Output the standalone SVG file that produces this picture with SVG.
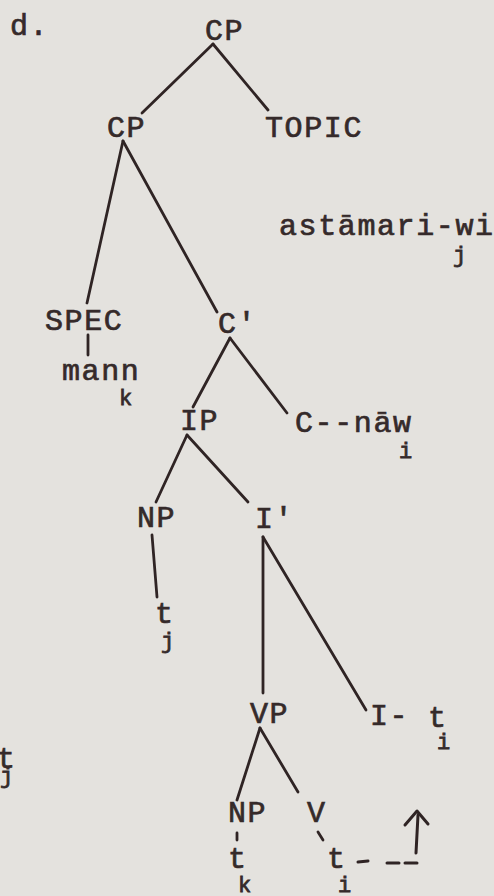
<svg xmlns="http://www.w3.org/2000/svg" width="494" height="896" viewBox="0 0 494 896">
  <style>
    .lbl { font-family: "Liberation Mono", "Courier New", monospace; font-size: 30px; letter-spacing: 1.6px; fill: #352a2a; stroke: #352a2a; stroke-width: 0.7px; }
    .sub { font-family: "Liberation Mono", "Courier New", monospace; font-size: 22px; fill: #352a2a; stroke: #352a2a; stroke-width: 0.8px; }
    .edge { stroke: #2f2424; stroke-width: 2.8; stroke-linecap: round; fill: none; }
    .move { stroke: #2f2424; stroke-width: 3; stroke-linecap: round; stroke-linejoin: round; fill: none; }
  </style>
  <rect width="494" height="896" fill="#e4e2de"/>

  <text class="lbl" x="10" y="35">d.</text>

  <!-- tree branches -->
  <g id="connectors">
    <line class="edge" x1="213" y1="44" x2="142" y2="113"/>
    <line class="edge" x1="213" y1="44" x2="268" y2="110"/>
    <line class="edge" x1="123" y1="141" x2="87" y2="303"/>
    <line class="edge" x1="123" y1="141" x2="217" y2="312"/>
    <line class="edge" x1="88" y1="335" x2="88" y2="355"/>
    <line class="edge" x1="230" y1="338" x2="193" y2="407"/>
    <line class="edge" x1="230" y1="338" x2="287" y2="413"/>
    <line class="edge" x1="187" y1="435" x2="156" y2="502"/>
    <line class="edge" x1="187" y1="435" x2="248" y2="502"/>
    <line class="edge" x1="152" y1="535" x2="157" y2="597"/>
    <line class="edge" x1="263" y1="537" x2="263" y2="693"/>
    <line class="edge" x1="263" y1="537" x2="366" y2="710"/>
    <line class="edge" x1="260" y1="728" x2="237" y2="800"/>
    <line class="edge" x1="260" y1="728" x2="298" y2="792"/>
    <line class="edge" x1="237" y1="833" x2="237" y2="840"/>
    <line class="edge" x1="318" y1="832" x2="323" y2="840"/>
    <!-- movement path from the verb trace up toward I -->
    <line class="move" x1="358" y1="862" x2="368" y2="861"/>
    <line class="move" x1="387" y1="863" x2="399" y2="863"/>
    <line class="move" x1="405" y1="863" x2="417" y2="863"/>
    <line class="move" x1="416" y1="853" x2="418" y2="815"/>
    <polyline class="move" points="405,825 417,811 428,824"/>
  </g>

  <g id="cp-root"><text class="lbl" x="205" y="40">CP</text></g>
  <g id="cp"><text class="lbl" x="107" y="137">CP</text></g>
  <g id="topic"><text class="lbl" x="265" y="137">TOPIC</text></g>
  <g id="topic-word">
    <text class="lbl" x="279" y="235">astāmari-wi</text>
    <text class="sub" x="453" y="262">j</text>
  </g>
  <g id="spec"><text class="lbl" x="45" y="330">SPEC</text></g>
  <g id="spec-word">
    <text class="lbl" x="62" y="380">mann</text>
    <text class="sub" x="119" y="405">k</text>
  </g>
  <g id="c-bar"><text class="lbl" x="218" y="333">C'</text></g>
  <g id="ip"><text class="lbl" x="180" y="430">IP</text></g>
  <g id="c-head">
    <text class="lbl" x="295" y="432">C--nāw</text>
    <text class="sub" x="399" y="458">i</text>
  </g>
  <g id="np-subj"><text class="lbl" x="137" y="527">NP</text></g>
  <g id="np-subj-trace">
    <text class="lbl" x="155" y="623">t</text>
    <text class="sub" x="161" y="648">j</text>
  </g>
  <g id="i-bar"><text class="lbl" x="255" y="528">I'</text></g>
  <g id="vp"><text class="lbl" x="250" y="723">VP</text></g>
  <g id="i-head">
    <text class="lbl" x="370" y="725">I-</text>
    <text class="lbl" x="428" y="727">t</text>
    <text class="sub" x="437" y="749">i</text>
  </g>
  <g id="edge-trace">
    <text class="lbl" x="-3" y="768">t</text>
    <text class="sub" x="0" y="783">j</text>
  </g>
  <g id="np-obj"><text class="lbl" x="228" y="822">NP</text></g>
  <g id="v"><text class="lbl" x="307" y="822">V</text></g>
  <g id="np-obj-trace">
    <text class="lbl" x="228" y="868">t</text>
    <text class="sub" x="238" y="892">k</text>
  </g>
  <g id="v-trace">
    <text class="lbl" x="327" y="868">t</text>
    <text class="sub" x="338" y="892">i</text>
  </g>
</svg>
